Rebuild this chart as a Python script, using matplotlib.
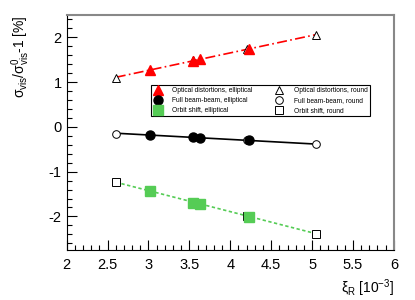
import numpy as np
import matplotlib
matplotlib.use('Agg')
import matplotlib.pyplot as plt
from matplotlib.ticker import MultipleLocator, FormatStrFormatter

plt.rcParams['font.family'] = ['Liberation Sans', 'DejaVu Sans']
plt.rcParams['mathtext.fontset'] = 'custom'
plt.rcParams['mathtext.rm'] = 'Liberation Sans'
plt.rcParams['mathtext.it'] = 'Liberation Sans'

# round beam points
xi_round = [2.60, 3.54, 4.21, 5.05]
opt_round = [1.10, 1.49, 1.73, 2.06]
bb_round = [-0.15, -0.22, -0.30, -0.39]
orb_round = [-1.24, -1.67, -1.99, -2.39]

# elliptical beam points
xi_ell = [3.02, 3.55, 3.63, 4.23]
opt_ell = [1.27, 1.48, 1.51, 1.74]
bb_ell = [-0.18, -0.23, -0.25, -0.29]
orb_ell = [-1.44, -1.69, -1.73, -2.01]

fig = plt.figure(figsize=(4.15, 3.0), dpi=100)
ax = fig.add_axes([0.1607, 0.1667, 0.7883, 0.7833])

xfit = np.array([2.6, 5.05])
series = [
    (opt_round, opt_ell, 'red', (0, (6, 2, 1, 2)), '^', 'Optical distortions'),
    (bb_round, bb_ell, 'black', '-', 'o', 'Full beam-beam'),
    (orb_round, orb_ell, '#55cc55', (0, (2, 1.5)), 's', 'Orbit shift'),
]
ell_handles = []
round_handles = []
for yr, ye, col, ls, mk, name in series:
    p = np.polyfit(xi_round, yr, 1)
    ax.plot(xfit, np.polyval(p, xfit), color=col, linestyle=ls, linewidth=1.2, zorder=1)
    h1, = ax.plot(xi_ell, ye, linestyle='none', marker=mk, color=col, markersize=6.5,
                  label=name + ', elliptical', zorder=3)
    h2, = ax.plot(xi_round, yr, linestyle='none', marker=mk, markerfacecolor='white',
                  markeredgecolor='black', markeredgewidth=0.7, markersize=5.5,
                  label=name + ', round', zorder=2)
    ell_handles.append(h1)
    round_handles.append(h2)

ax.set_xlim(2, 6)
ax.set_ylim(-2.75, 2.5)
ax.xaxis.set_major_locator(MultipleLocator(0.5))
ax.xaxis.set_minor_locator(MultipleLocator(0.1))
ax.yaxis.set_major_locator(MultipleLocator(1))
ax.yaxis.set_minor_locator(MultipleLocator(0.2))
ax.xaxis.set_major_formatter(FormatStrFormatter('%g'))
ax.yaxis.set_major_formatter(FormatStrFormatter('%g'))
ax.tick_params(which='both', direction='in', top=False, right=False, labelsize=10.5)
ax.tick_params(which='major', length=7, width=0.8)
ax.tick_params(which='minor', length=3.5, width=0.8)
ax.tick_params(axis='x', pad=6)
for s in ['top', 'right']:
    ax.spines[s].set_color('#888888')
    ax.spines[s].set_linewidth(1.5)

ax.set_xlabel(r'$\xi_{R}$ [10$^{-3}$]', loc='right', fontsize=10)
ax.set_ylabel(r'$\sigma_{vis}/\sigma^{0}_{vis}$-1 [%]', loc='top', fontsize=10, labelpad=12)

handles = ell_handles + round_handles
leg = ax.legend(handles=handles, ncol=2, fontsize=4.8, loc='lower left', mode='expand',
                bbox_to_anchor=(0.248, 0.556, 0.688, 0.128), frameon=True, fancybox=False,
                edgecolor='black', framealpha=1, borderpad=0.3, labelspacing=0.45,
                handletextpad=1.4, columnspacing=3.5, handlelength=1.5)
leg.get_frame().set_linewidth(0.8)

fig.savefig('out.png', dpi=100)
